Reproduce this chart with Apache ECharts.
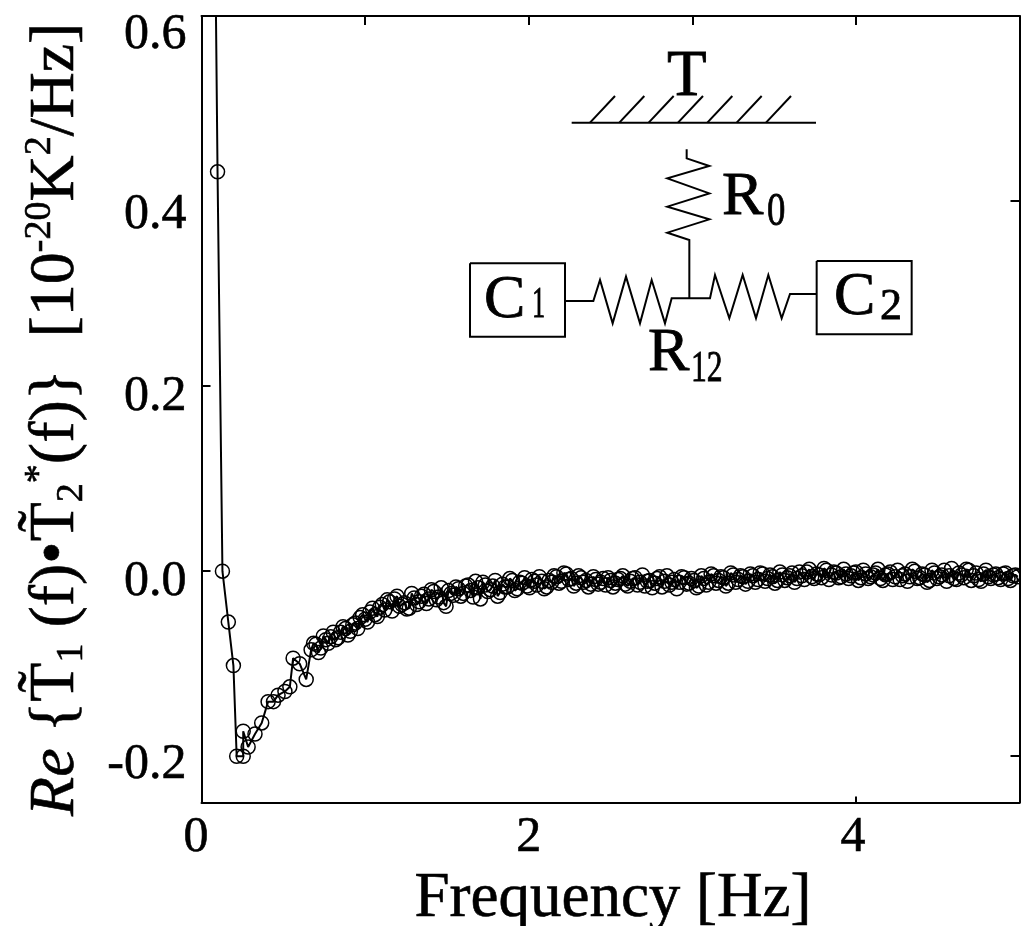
<!DOCTYPE html>
<html><head><meta charset="utf-8">
<style>html,body{margin:0;padding:0;background:#fff}#c{width:1021px;height:926px}</style>
<script src="https://cdn.jsdelivr.net/npm/echarts@6/dist/echarts.min.js"></script>
</head><body><div id="c"></div>
<script>
const frequencyA = [
0.08,0.098,0.128,0.164,0.195,0.215,0.255,0.255,0.285,0.327,0.368,0.407,0.44,0.468,0.51,0.54,0.56,0.60,0.64,
0.67,0.70,0.73,0.76,0.79,0.82,0.85,0.88,0.91,0.94,
0.97,1.00,1.03,1.06,1.09,1.12,1.15,1.18,1.21,1.24,
1.27,1.30,1.33,1.36,1.39,1.42,1.45,1.48,1.51,1.54,
1.57,1.60,1.63,1.66,1.69,1.72,1.75,1.78,1.81,1.84,
1.87,1.90,1.93,1.96,1.99,2.02,2.05,2.08,2.11,2.14,
2.17,2.20,2.23,2.26,2.29,2.32,2.35,2.38,2.41,2.44,
2.47,2.50,2.53,2.56,2.59,2.62,2.65,2.68,2.71,2.74,
2.77,2.80,2.83,2.86,2.89,2.92,2.95,2.98,3.01,3.04,
3.07,3.10,3.13,3.16,3.19,3.22,3.25,3.28,3.31,3.34,
3.37,3.40,3.43,3.46,3.49,3.52,3.55,3.58,3.61,3.64,
3.67,3.70,3.73,3.76,3.79,3.82,3.85,3.88,3.91,3.94,
3.97,4.00,4.03,4.06,4.09,4.12,4.15,4.18,4.21,4.24,
4.27,4.30,4.33,4.36,4.39,4.42,4.45,4.48,4.51,4.54,
4.57,4.60,4.63,4.66,4.69,4.72,4.75,4.78,4.81,4.84,
4.87,4.90,4.93,4.96,4.99];
const responseA = [
0.75,0.4316,0,-0.055,-0.102,-0.2,-0.2,-0.173,-0.19,-0.176,-0.164,-0.141,-0.141,-0.134,-0.13,-0.125,-0.094,-0.10,-0.117,
-0.085,-0.079,-0.083,-0.074,-0.071,-0.074,-0.066,-0.062,-0.065,-0.056,
-0.050,-0.052,-0.044,-0.047,-0.039,-0.042,-0.033,-0.030,-0.038,-0.034,
-0.040,-0.029,-0.033,-0.025,-0.030,-0.022,-0.028,-0.034,-0.021,-0.026,
-0.019,-0.024,-0.015,-0.028,-0.018,-0.012,-0.022,-0.016,-0.027,-0.014,
-0.017,-0.010,-0.019,-0.013,-0.016,-0.009,-0.015,-0.011,-0.017,-0.012,
-0.006,-0.011,-0.003,-0.008,-0.013,-0.007,-0.010,-0.014,-0.009,-0.012,
-0.015,-0.010,-0.013,-0.008,-0.014,-0.011,-0.007,-0.012,-0.016,-0.010,
-0.013,-0.006,-0.011,-0.015,-0.009,-0.012,-0.007,-0.013,-0.010,-0.016,
-0.008,-0.012,-0.005,-0.010,-0.007,-0.013,-0.004,-0.009,-0.006,-0.011,
-0.005,-0.009,-0.003,-0.008,-0.006,-0.010,-0.004,-0.007,-0.002,-0.008,
-0.005,-0.001,-0.006,-0.003,-0.007,0.001,-0.004,-0.002,-0.006,-0.003,
-0.005,-0.001,-0.007,-0.003,-0.006,-0.002,-0.008,-0.004,-0.001,-0.006,
-0.009,-0.003,-0.006,0.000,-0.007,-0.004,-0.010,-0.002,-0.006,0.001,
-0.005,-0.008,-0.002,-0.007,0.001,-0.005,-0.009,-0.003,-0.006,-0.004,
-0.007,-0.003,-0.008,-0.005,-0.006];
const frequencyB = [
0.685,0.715,0.745,0.775,0.805,0.835,0.865,0.895,0.925,0.955,
0.985,1.015,1.045,1.075,1.105,1.135,1.165,1.195,1.225,1.255,
1.285,1.315,1.345,1.375,1.405,1.435,1.465,1.495,1.525,1.555,
1.585,1.615,1.645,1.675,1.705,1.735,1.765,1.795,1.825,1.855,
1.885,1.915,1.945,1.975,2.005,2.035,2.065,2.095,2.125,2.155,
2.185,2.215,2.245,2.275,2.305,2.335,2.365,2.395,2.425,2.455,
2.485,2.515,2.545,2.575,2.605,2.635,2.665,2.695,2.725,2.755,
2.785,2.815,2.845,2.875,2.905,2.935,2.965,2.995,3.025,3.055,
3.085,3.115,3.145,3.175,3.205,3.235,3.265,3.295,3.325,3.355,
3.385,3.415,3.445,3.475,3.505,3.535,3.565,3.595,3.625,3.655,
3.685,3.715,3.745,3.775,3.805,3.835,3.865,3.895,3.925,3.955,
3.985,4.015,4.045,4.075,4.105,4.135,4.165,4.195,4.225,4.255,
4.285,4.315,4.345,4.375,4.405,4.435,4.465,4.495,4.525,4.555,
4.585,4.615,4.645,4.675,4.705,4.735,4.765,4.795,4.825,4.855,
4.885,4.915,4.945,4.975];
const responseB = [
-0.078,-0.088,-0.070,-0.078,-0.066,-0.072,-0.060,-0.069,-0.058,-0.062,
-0.047,-0.055,-0.040,-0.049,-0.036,-0.031,-0.043,-0.027,-0.036,-0.041,
-0.024,-0.036,-0.027,-0.035,-0.020,-0.031,-0.018,-0.038,-0.024,-0.017,
-0.027,-0.016,-0.021,-0.011,-0.030,-0.015,-0.020,-0.010,-0.023,-0.017,
-0.008,-0.021,-0.012,-0.007,-0.018,-0.011,-0.006,-0.019,-0.010,-0.005,
-0.013,-0.002,-0.009,-0.016,-0.005,-0.012,-0.017,-0.006,-0.014,-0.008,
-0.007,-0.017,-0.009,-0.005,-0.016,-0.008,-0.015,-0.004,-0.011,-0.018,
-0.008,-0.017,-0.005,-0.012,-0.019,-0.006,-0.014,-0.008,-0.018,-0.005,
-0.015,-0.003,-0.013,-0.006,-0.016,-0.002,-0.012,-0.005,-0.014,-0.003,
-0.012,-0.002,-0.011,-0.004,-0.013,-0.001,-0.010,-0.005,-0.012,-0.001,
-0.009,0.002,-0.008,-0.004,0.003,-0.009,-0.001,-0.007,0.002,-0.008,
-0.002,-0.010,0.001,-0.008,-0.004,0.002,-0.010,-0.003,-0.009,0.001,
-0.005,-0.011,0.002,-0.008,-0.003,-0.012,0.001,-0.008,-0.004,-0.011,
0.003,-0.009,-0.004,0.002,-0.010,-0.002,-0.011,0.001,-0.008,-0.003,
-0.009,-0.002,-0.010,-0.004];
const xTickLabels = [0, 2, 4];
const yTickLabels = [-0.2, 0, 0.2, 0.4, 0.6];

const points = frequencyA.map((f, i) => [f, responseA[i]])
  .concat(frequencyB.map((f, i) => [f, responseB[i]]))
  .sort((a, b) => a[0] - b[0]);

const SERIF = '"Liberation Serif","Times New Roman",serif';
const LINE = { stroke: '#000', lineWidth: 2, fill: 'none' };
const poly = pts => ({ type: 'polyline', shape: { points: pts.map(p => [460 + p[0] / 3, 60 + p[1] / 3]) }, style: LINE });
const label = (text, x, y, size, scaleX) => ({ type: 'text', x, y, scaleX: scaleX || 1, style: { text, font: size + 'px ' + SERIF, fill: '#000', textVerticalAlign: 'bottom', stroke: '#000', lineWidth: 0.8 } });
const hatchX = [390, 478, 566, 654, 742, 830, 918];
const axisStyle = { onZero: false, show: true, lineStyle: { color: '#000', width: 2 } };
const tickStyle = { color: '#000', width: 2 };
const heavy = { textBorderColor: '#000', textBorderWidth: 0.6 };
const tok = o => Object.assign({ fontFamily: SERIF, color: '#000' }, heavy, o);

// Each y label sits a little lower than its tick in the reference
const yLabelStyle = { '-0.2': 'a', '0.0': 'b', '0.2': 'b', '0.4': 'c', '0.6': 'd' };
// The 0 and 4 labels sit a little left of their ticks
const xLabelStyle = { 0: 'a', 2: 'b', 4: 'c' };

const chart = echarts.init(document.getElementById('c'), null, { renderer: 'canvas' });
chart.setOption({
  animation: false,
  backgroundColor: '#fff',
  grid: { left: 201.5, right: 1.5, top: 16, bottom: 123.5, containLabel: false, outerBoundsMode: 'none' },
  xAxis: [{
    type: 'value', min: 0, max: 5, position: 'bottom',
    axisLine: axisStyle,
    axisTick: { show: true, inside: true, length: 6, customValues: [4], lineStyle: tickStyle },
    axisLabel: {
      show: true, customValues: xTickLabels, margin: 10, hideOverlap: false,
      formatter: v => '{' + xLabelStyle[v] + '|' + v + '}',
      rich: {
        a: tok({ fontSize: 50, padding: [0, 11, 0, 0] }),
        b: tok({ fontSize: 50 }),
        c: tok({ fontSize: 50, padding: [0, 6, 0, 0] })
      }
    },
    splitLine: { show: false },
    name: 'Frequency [Hz]', nameLocation: 'middle', nameGap: 47,
    nameTextStyle: { color: '#000', fontFamily: SERIF, fontSize: 63, padding: [0, 0, 0, 5], textBorderColor: '#000', textBorderWidth: 0.6 }
  }, {
    type: 'value', min: 0, max: 5, position: 'top',
    axisLine: axisStyle,
    axisTick: { show: true, inside: true, length: 9, customValues: [1, 2, 3, 4], lineStyle: tickStyle },
    axisLabel: { show: false }, splitLine: { show: false }
  }],
  yAxis: [{
    type: 'value', min: -0.25, max: 0.6, position: 'left',
    axisLine: axisStyle,
    axisTick: { show: true, inside: true, length: 9, customValues: [0, 0.2], lineStyle: tickStyle },
    axisLabel: {
      show: true, customValues: yTickLabels, margin: 15, verticalAlign: 'top', hideOverlap: false,
      formatter: v => '{' + yLabelStyle[v.toFixed(1)] + '|' + v.toFixed(1) + '}',
      rich: {
        a: tok({ fontSize: 50, lineHeight: 18 }),
        b: tok({ fontSize: 50, lineHeight: 22 }),
        c: tok({ fontSize: 50, lineHeight: 28 }),
        d: tok({ fontSize: 50, lineHeight: 38 })
      }
    },
    splitLine: { show: false },
    name: '{i|Re} {T\u0303{sub|1} (f)\u2022T\u0303{sub|2}{sup|*}(f)}  [10{sup|-20}K{sup|2}/Hz]',
    nameLocation: 'middle', nameGap: 110, nameRotate: 90,
    nameTextStyle: {
      color: '#000', fontFamily: SERIF, fontSize: 64, lineHeight: 70, padding: [0, 20, 0, 0],
      textBorderColor: '#000', textBorderWidth: 0.6,
      rich: {
        i: tok({ fontStyle: 'italic', fontSize: 64 }),
        sub: tok({ fontSize: 38, verticalAlign: 'bottom', lineHeight: 38 }),
        sup: tok({ fontSize: 38, verticalAlign: 'top', lineHeight: 38 })
      }
    }
  }, {
    type: 'value', min: -0.25, max: 0.6, position: 'right',
    axisLine: axisStyle,
    axisTick: { show: true, inside: true, length: 9, customValues: [-0.2, 0.4], lineStyle: tickStyle },
    axisLabel: { show: false }, splitLine: { show: false }
  }],
  series: [{
    type: 'line', xAxisIndex: 0, yAxisIndex: 0, clip: true,
    data: points,
    symbol: 'circle', symbolSize: 14, showAllSymbol: true,
    lineStyle: { color: '#000', width: 2 },
    itemStyle: { color: 'rgba(0,0,0,0)', borderColor: '#000', borderWidth: 1.5 }
  }],
  graphic: { elements: [
    poly([[335, 188], [1068, 188]]),
    ...hatchX.map(x => poly([[x, 188], [x + 75, 108]])),
    poly([[680, 268], [680, 295], [748, 318], [622, 355], [748, 400], [622, 440], [748, 478], [622, 518], [688, 540], [688, 715]]),
    poly([[30, 610], [315, 610], [315, 830], [30, 830], [30, 610]]),
    poly([[1070, 603], [1355, 603], [1355, 823], [1070, 823], [1070, 603]]),
    poly([[315, 723], [400, 723], [420, 660], [458, 790], [498, 650], [540, 790], [575, 660], [615, 790], [635, 715], [750, 715], [765, 645], [808, 775], [848, 645], [888, 775], [925, 645], [965, 775], [990, 702], [1070, 702]]),
    label('T', 667, 110, 65),
    label('R', 722, 229, 62),
    label('0', 767, 236, 46, 0.8),
    label('C', 484, 332, 62),
    label('1', 532, 327, 44, 0.6),
    label('C', 834, 329, 62),
    label('2', 880, 329, 44),
    label('R', 648, 385, 62),
    label('12', 691, 391, 44, 0.72)
  ] }
});
</script></body></html>
